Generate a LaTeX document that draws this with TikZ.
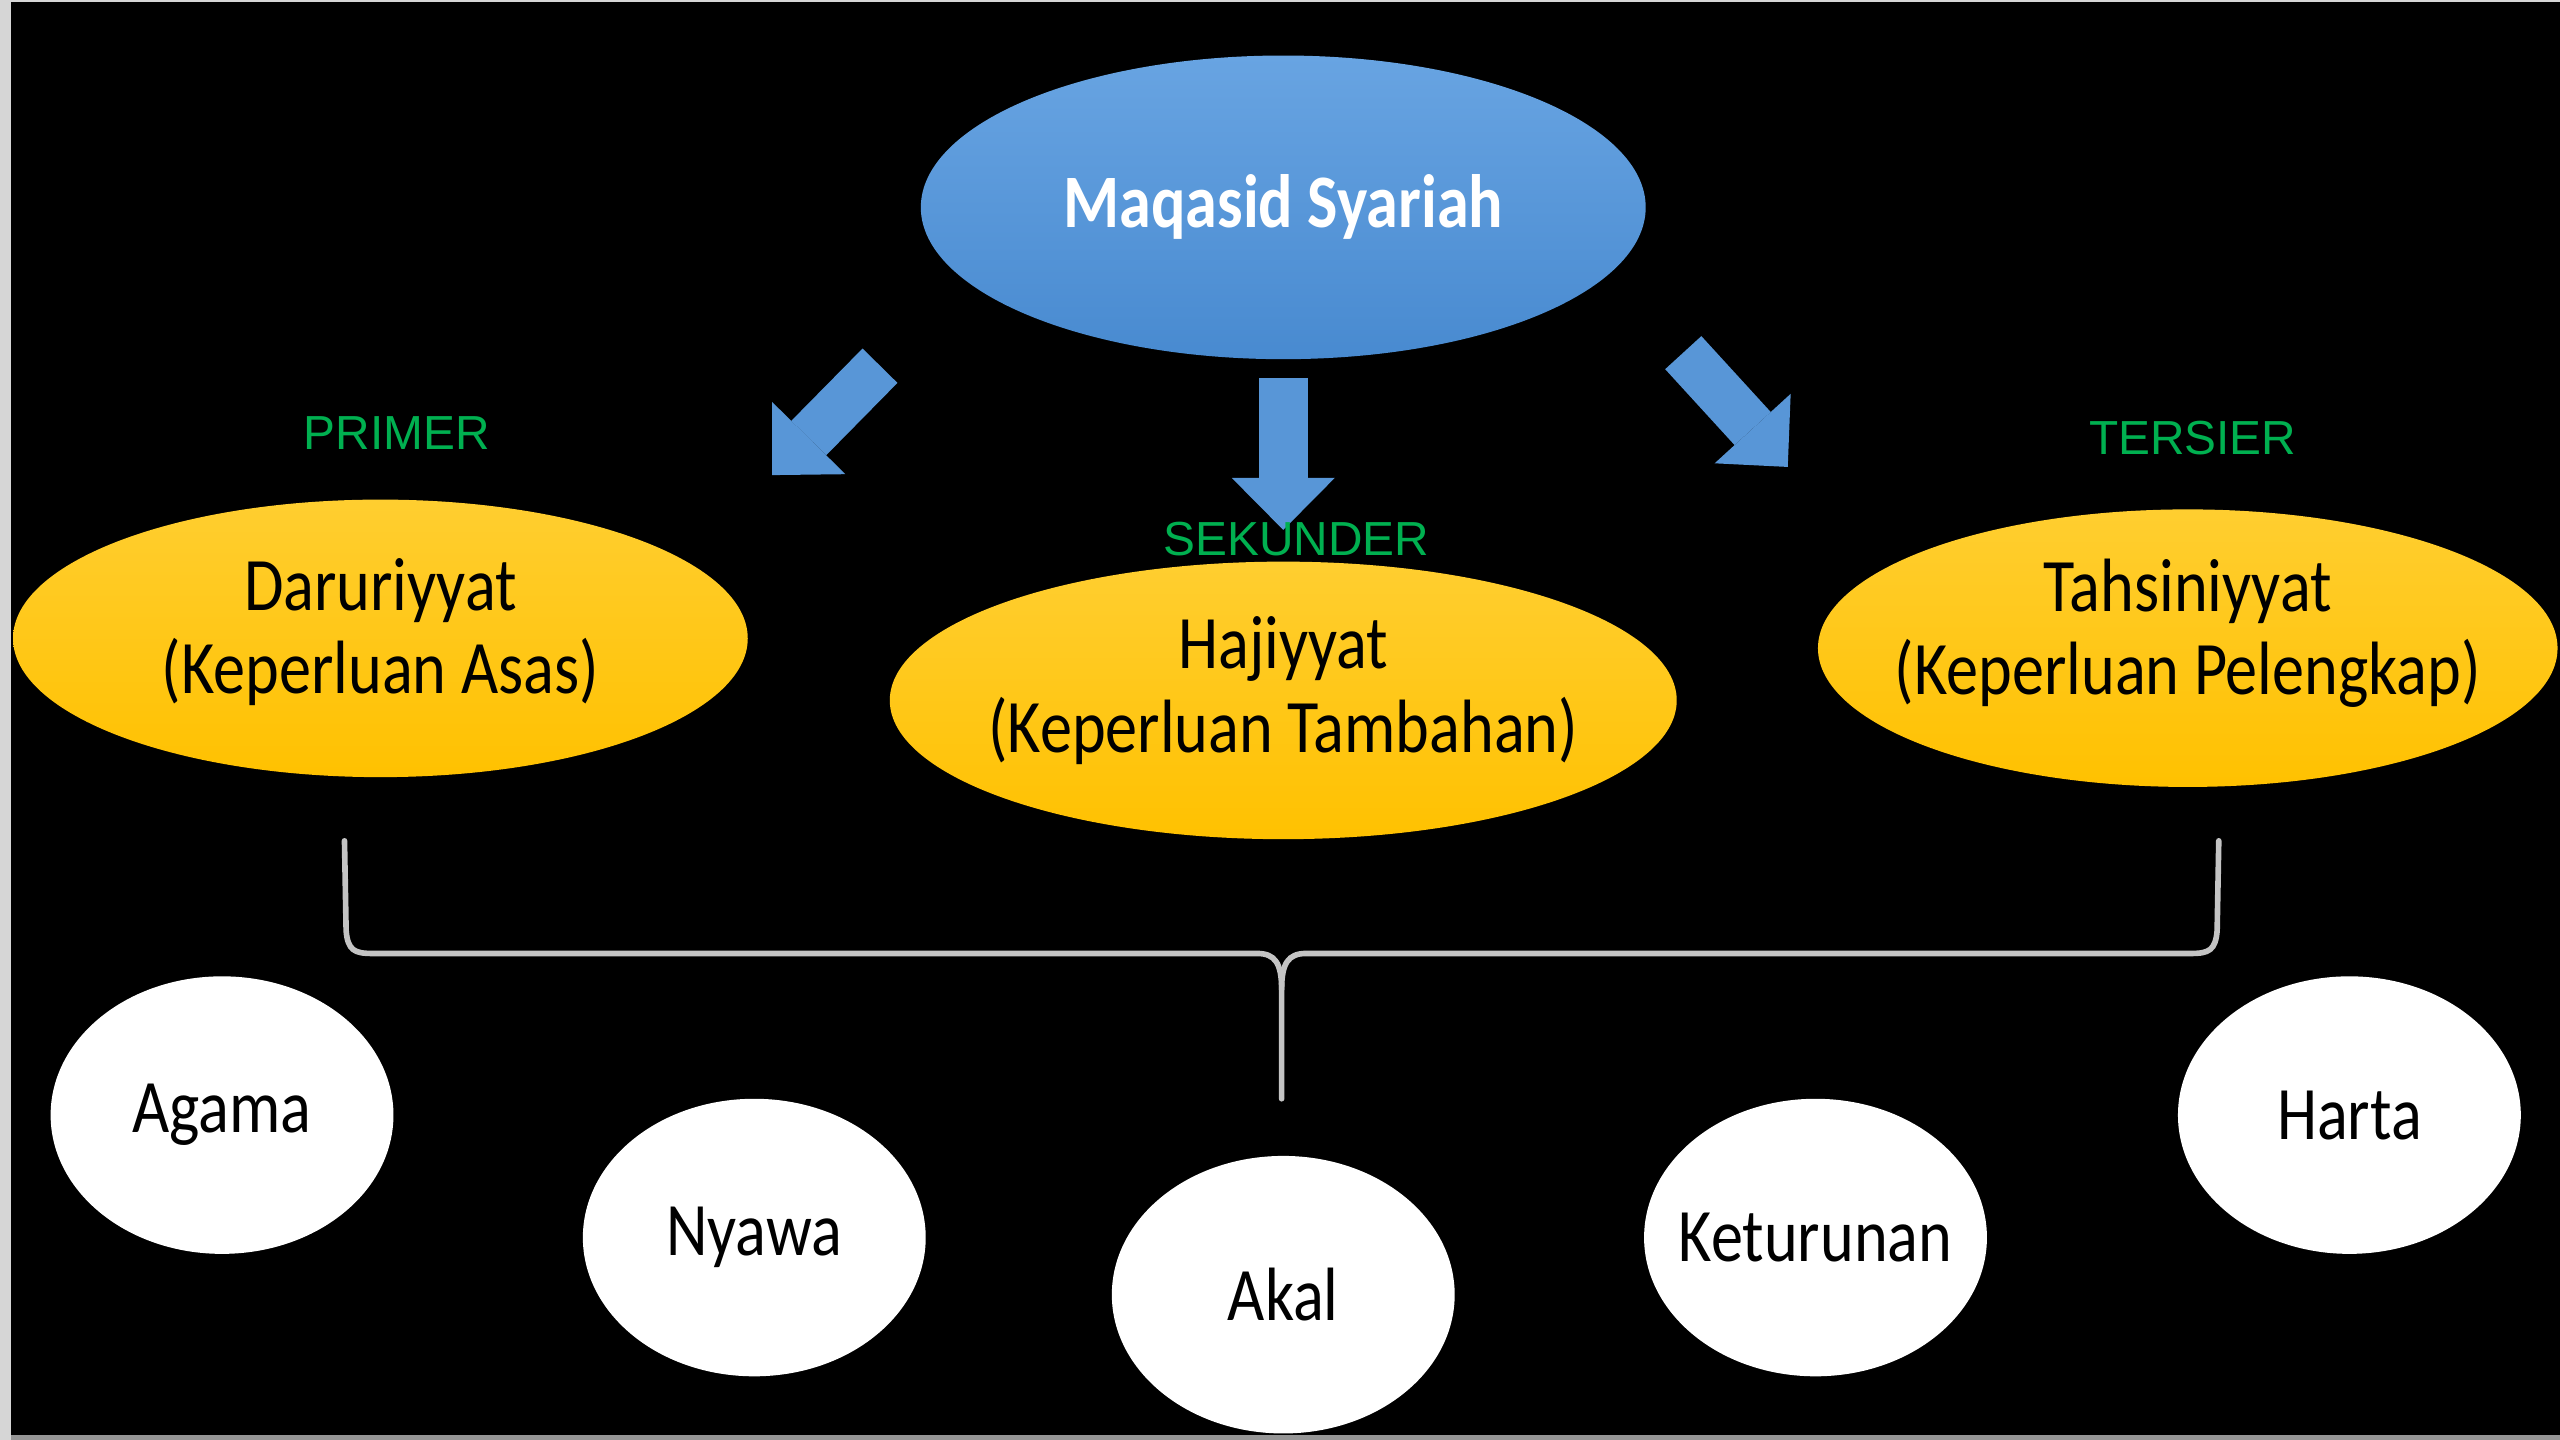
\documentclass[tikz,border=0pt]{standalone}
\usepackage{fontspec}
\setmainfont[FakeStretch=0.85]{Carlito}
\newfontfamily\tagfont{Liberation Sans}
\usepackage{tikz}
\usetikzlibrary{
  shapes.geometric,
  arrows.meta,
  positioning
}
\newcommand{\upx}{0.016327cm}
\newcommand{\slidesize}{\fontsize{21.5}{23.7}\selectfont}
\definecolor{framegray}{RGB}{214, 214, 214}
\definecolor{edgegray}{RGB}{150, 150, 150}
\definecolor{skytop}{RGB}{104, 164, 226}
\definecolor{skybot}{RGB}{72, 138, 208}
\definecolor{arrowblue}{RGB}{88, 150, 215}
\definecolor{goldtop}{RGB}{255, 206, 48}
\definecolor{goldbot}{RGB}{255, 193, 0}
\definecolor{levelgreen}{RGB}{0, 176, 80}
\definecolor{bracegray}{RGB}{196, 196, 196}
\tikzset{
  rootnode/.style = {
    ellipse, inner sep=0pt,
    top color=skytop, bottom color=skybot,
    minimum width=444*\upx, minimum height=186*\upx
  },
  roottext/.style = {
    font=\slidesize\bfseries, text=white, inner sep=0pt
  },
  levelnode/.style = {
    ellipse, inner sep=0pt,
    top color=goldtop, bottom color=goldbot,
    minimum width=#1*\upx, minimum height=170*\upx
  },
  levelnode/.default = 452,
  leveltext/.style = {
    font=\slidesize, text=black, align=center, inner sep=0pt
  },
  leafnode/.style = {
    ellipse, inner sep=0pt, fill=white,
    minimum width=210*\upx, minimum height=170*\upx
  },
  leaftext/.style = {
    font=\slidesize, text=black, inner sep=0pt
  },
  tagtext/.style = {
    font=\tagfont\fontsize{13.6}{16}\selectfont, text=levelgreen, inner sep=0pt
  },
  fatarrow/.style = {
    draw=arrowblue, line width=0.49cm,
    -{Triangle[length=0.52cm, width=1.03cm, line width=0pt]}
  },
  bracket/.style = {draw=bracegray, line width=1.6pt, line cap=round},
}

\begin{document}
\begin{tikzpicture}[x=\upx, y=-\upx]

  %% slide frame
  \useasboundingbox (0,0) rectangle (1568,882);
  \fill[framegray] (0,0) rectangle (1568,882);
  \fill[black] (7,1) rectangle (1568,879);
  \fill[edgegray] (7,879) rectangle (1568,882);

  %% top
  \node[rootnode, label={[roottext]center:Maqasid Syariah}] (maqasid) at (786,127) {};

  %% three levels
  \node[levelnode=450, label={[leveltext, yshift=4*\upx]center:Daruriyyat\\(Keperluan Asas)}]
    (daruri) at (233,391) {};
  \node[levelnode=482, label={[leveltext, yshift=6*\upx]center:Hajiyyat\\(Keperluan Tambahan)}]
    (hajiyyat) at (786,429) {};
  \node[levelnode=453, label={[leveltext, yshift=9*\upx]center:Tahsiniyyat\\(Keperluan Pelengkap)}]
    (tahsini) at (1340,397) {};

  %% arrows
  \coordinate (arrL0) at (539,224);
  \coordinate (arrL1) at (473,291);
  \coordinate (arrR0) at (1031,216);
  \coordinate (arrR1) at (1095,286);
  \draw[fatarrow] (arrL0) -- (arrL1);
  \draw[fatarrow, shorten <=11*\upx, shorten >=19*\upx] (maqasid.south) -- (hajiyyat.north);
  \draw[fatarrow] (arrR0) -- (arrR1);

  %% green tags
  \node[tagtext] (primer)   at (243,265) {PRIMER};
  \node[tagtext] (sekunder) at (794,330) {SEKUNDER};
  \node[tagtext] (tersier)  at (1343,268) {TERSIER};

  %% bracket
  \coordinate (brL) at (211,515);
  \coordinate (brR) at (1359,515);
  \coordinate (brM) at (785,673);
  \draw[bracket] (brL) -- (212,570) .. controls (213,582) and (217,584) .. (228,584)
    -- (770,584) .. controls (781,584) and (785,590) .. (785,606) -- (brM);
  \draw[bracket] (brR) -- (1358,570) .. controls (1357,582) and (1353,584) .. (1342,584)
    -- (800,584) .. controls (789,584) and (785,590) .. (785,606);

  %% five needs
  \node[leafnode, label={[leaftext]center:Agama}]     (agama)  at (136,683) {};
  \node[leafnode, label={[leaftext]center:Nyawa}]     (nyawa)  at (462,758) {};
  \node[leafnode, label={[leaftext]center:Akal}]      (akal)   at (786,793) {};
  \node[leafnode, label={[leaftext]center:Keturunan}] (ketur)  at (1112,758) {};
  \node[leafnode, label={[leaftext]center:Harta}]     (harta)  at (1439,683) {};

\end{tikzpicture}
\end{document}
